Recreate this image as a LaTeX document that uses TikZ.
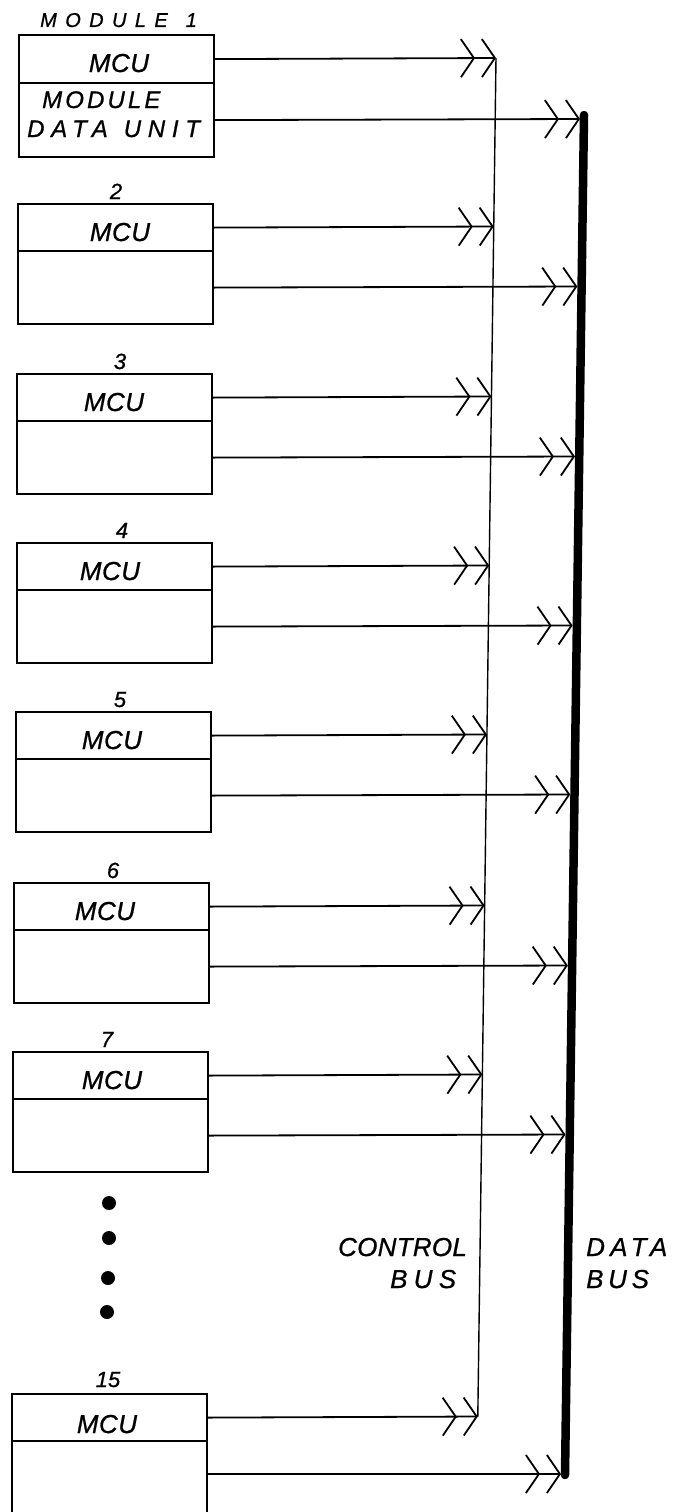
\documentclass[tikz,border=0pt]{standalone}
\usepackage{fontspec}
\setmainfont{Liberation Sans}
\usetikzlibrary{arrows.meta,calc}
\newcommand\handfont[2]{\fontsize{#1}{#1}\selectfont\itshape\addfontfeatures{LetterSpace=#2,FakeBold=0.8}}
\tikzset{
  unitbox/.style={draw, line width=2.2pt, rectangle, inner sep=0pt, minimum width=195pt, anchor=north west},
  mcubox/.style={unitbox, minimum height=47pt},
  databox/.style={unitbox, minimum height=73pt},
  lbl/.style={inner sep=0pt, anchor=base},
  chev/.style={line width=1.8pt, -{Straight Barb[length=13pt,width=38pt,sep=6pt]Straight Barb[length=13pt,width=38pt]}},
  ctlbus/.style={line width=1.4pt},
  databus/.style={line width=8.5pt, line cap=round},
  dot/.style={circle, fill=black, inner sep=0pt, minimum size=14pt},
}
\begin{document}
\begin{tikzpicture}[x=1pt,y=-1pt]
\useasboundingbox (0,0) rectangle (674,1512);
\fill[white] (0,0) rectangle (674,1512);
\clip (0,0) rectangle (674,1512);

% ---- data bus
\coordinate (dbT) at (584,115);
\coordinate (dbB) at (565,1475);
\draw[databus] (dbT) -- (dbB);

% ---- module 1
\node[unitbox, minimum height=48pt] (mcu1) at (18,34) {};
\node[unitbox, minimum height=74pt] (du1) at (18,82) {};
\node[lbl, anchor=base west, font=\handfont{20pt}{42}] (m1lab) at (40,27) {MODULE\hspace{18pt}1};
\node[lbl, font=\handfont{26pt}{2}] (mcut1) at (119,72) {MCU};
\node[lbl, anchor=base west, font=\handfont{24pt}{13}] (dut1a) at (42,108) {MODULE};
\node[lbl, anchor=base west, font=\handfont{24pt}{28}] (dut1b) at (27,137) {DATA\hspace{16pt}UNIT};
\coordinate (ce1) at (496,58);
\coordinate (de1) at (580,119);
\draw[chev] (mcu1.east) -- (ce1);
\draw[chev] (du1.east) -- (de1);

% ---- modules 2..7
\foreach \i/\T/\L/\nx/\mx in {2/203/17/116/120, 3/373/16/120/114, 4/542/16/122/110, 5/711/15/120/112, 6/882/13/113/105, 7/1051/12/107/112} {
  \node[mcubox] (mcu\i) at (\L,\T) {};
  \node[databox] (du\i) at (\L,\T+47) {};
  \node[lbl, font=\handfont{22pt}{0}] (num\i) at (\nx,\T-4) {\i};
  \node[lbl, font=\handfont{26pt}{2}] (mcut\i) at (\mx,\T+38) {MCU};
  \pgfmathsetmacro\yc{\T+23.5}
  \pgfmathsetmacro\xc{496-0.0134*(\yc-58)}
  \pgfmathsetmacro\yd{\T+83.5}
  \pgfmathsetmacro\xd{584-0.014*(\yd-115)-4.25}
  \coordinate (ce\i) at (\xc,\yc);
  \coordinate (de\i) at (\xd,\yd);
  \draw[chev] (mcu\i.east) -- (ce\i);
  \draw[chev] (du\i.east) -- (de\i);
}

% ---- module 15 (cut by the lower edge)
\node[mcubox] (mcu15) at (11,1393) {};
\node[unitbox, minimum height=100pt] (du15) at (11,1440) {};
\node[lbl, font=\handfont{22pt}{0}] (num15) at (108,1387) {15};
\node[lbl, font=\handfont{26pt}{2}] (mcut15) at (107,1433) {MCU};
\coordinate (ce15) at (477.8,1416.5);
\coordinate (de15) at (561,1474);
\draw[chev] (mcu15.east) -- (ce15);
\draw[chev] (du15.north east |- de15) -- (de15);

% ---- control bus
\draw[ctlbus] (ce1) -- (ce15);

% ---- ellipsis dots
\node[dot] (dot1) at (109,1203) {};
\node[dot] (dot2) at (109,1238) {};
\node[dot] (dot3) at (108,1278) {};
\node[dot] (dot4) at (107,1312) {};

% ---- bus labels
\node[lbl, anchor=base west, font=\handfont{26pt}{1}] (ctlA) at (338,1256) {CONTROL};
\node[lbl, anchor=base west, font=\handfont{26pt}{24}] (ctlB) at (390,1288) {BUS};
\node[lbl, anchor=base west, font=\handfont{26pt}{20}] (datA) at (586,1256) {DATA};
\node[lbl, anchor=base west, font=\handfont{26pt}{18}] (datB) at (586,1288) {BUS};
\end{tikzpicture}
\end{document}
